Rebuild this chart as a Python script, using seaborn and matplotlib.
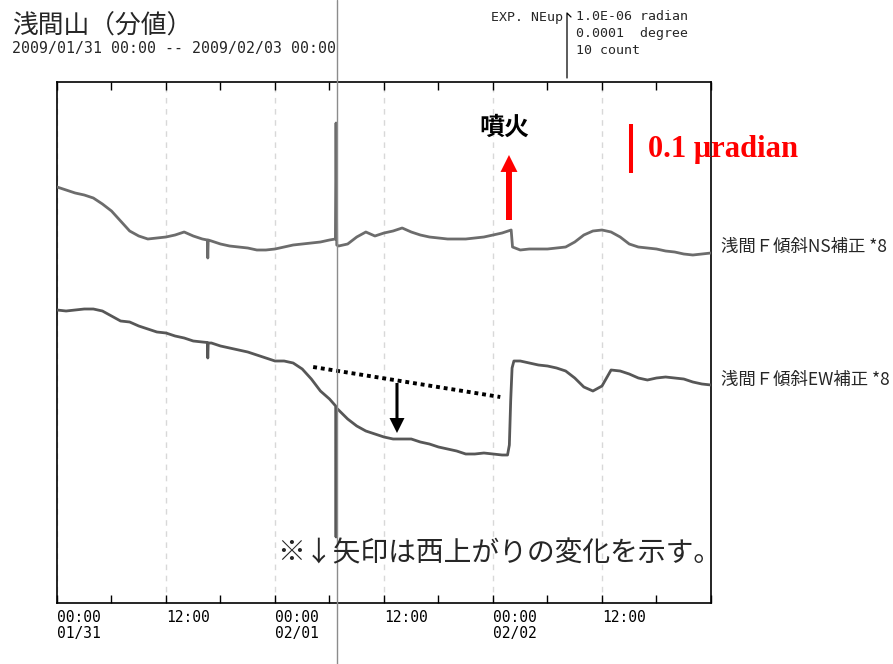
import matplotlib
matplotlib.use("Agg")
import matplotlib.pyplot as plt
from matplotlib.lines import Line2D
import numpy as np
import pandas as pd
import seaborn as sns

# Asama F tiltmeter, 1-minute record, hours since 2009/01/31 00:00 JST.
# Tilt levels are in nrad (0.1 μrad = 100), each channel drawn at its own offset.
ns_hours = [0, 1, 2, 3, 4, 5, 6, 7, 8, 9, 10, 11, 12, 13, 14, 15, 16, 16.55, 16.6, 16.65,
            17, 18, 19, 20, 21, 22, 23, 24, 25, 26, 27, 28, 29, 30, 30.65, 30.72, 30.8,
            31, 32, 33, 34, 35, 36, 37, 38, 39, 40, 41, 42, 43, 44, 45, 46, 47, 48, 49,
            50, 50.15, 51, 52, 53, 54, 55, 56, 57, 58, 59, 60, 61, 62, 63, 64, 65, 66,
            67, 68, 69, 70, 71, 72]
ns_tilt = [832, 826, 820, 816, 810, 798, 784, 764, 744, 734, 728, 730, 732, 736, 742, 734,
           728, 726, 690, 726, 724, 718, 714, 712, 710, 706, 706, 708, 712, 716, 718, 720,
           722, 726, 728, 960, 716, 714, 718, 732, 742, 734, 740, 744, 750, 742, 736, 732,
           730, 728, 728, 728, 730, 732, 736, 740, 746, 712, 706, 708, 708, 708, 710, 712,
           722, 736, 744, 746, 742, 732, 718, 712, 710, 708, 704, 702, 698, 696, 698, 700]

ew_hours = [0, 1, 2, 3, 4, 5, 6, 7, 8, 9, 10, 11, 12, 13, 14, 15, 16, 16.55, 16.6, 16.65,
            17, 18, 19, 20, 21, 22, 23, 24, 25, 26, 27, 28, 29, 30, 30.68, 30.72, 30.76,
            31, 32, 33, 34, 35, 36, 37, 38, 39, 40, 41, 42, 43, 44, 45, 46, 47, 48, 49,
            49.6, 49.8, 49.95, 50.1, 50.3, 51, 52, 53, 54, 55, 56, 57, 58, 59, 60, 61,
            62, 63, 64, 65, 66, 67, 68, 69, 70, 71, 72]
ew_tilt = [586, 584, 586, 588, 588, 584, 574, 564, 562, 554, 548, 542, 540, 534, 530, 524,
           522, 521, 490, 520, 520, 514, 510, 506, 502, 496, 490, 484, 484, 480, 468, 448,
           424, 408, 394, 132, 390, 386, 368, 354, 344, 338, 332, 328, 328, 328, 322, 318,
           312, 308, 304, 298, 298, 300, 298, 296, 296, 316, 406, 470, 484, 484, 480, 476,
           474, 470, 464, 450, 432, 424, 434, 466, 464, 458, 450, 446, 450, 452, 450, 448,
           442, 438, 436]

tick_hours = [0, 12, 24, 36, 48, 60, 72]
tick_labels = ["00:00\n01/31", "12:00", "00:00\n02/01", "12:00", "00:00\n02/02", "12:00", ""]
minor_hours = [6, 18, 30, 42, 54, 66]

trend_hours = [28.2, 48.8]      # pre-eruption EW trend (dotted)
trend_tilt = [472, 412]
eruption_hour = 49.76           # 噴火 2009/02/02 01:51
eruption_arrow = [766, 896]
west_up_hour = 37.43
west_up_arrow = [440, 340]
scale_hour = 63.2
scale_bar = [860, 958]          # 0.1 μrad

sns.set_theme(style="white")
plt.rcParams["font.family"] = ["Noto Sans CJK JP", "DejaVu Sans"]

W, H = 893, 664
fig = plt.figure(figsize=(W / 100, H / 100), dpi=100)
ax = fig.add_axes([57 / W, 1 - 603 / H, (711 - 57) / W, (603 - 82) / H])

df_ns = pd.DataFrame({"hour": ns_hours, "tilt": ns_tilt})
df_ew = pd.DataFrame({"hour": ew_hours, "tilt": ew_tilt})
sns.lineplot(data=df_ns, x="hour", y="tilt", ax=ax, color="#6c6c6c", lw=2.0,
             estimator=None, sort=False, zorder=3)
sns.lineplot(data=df_ew, x="hour", y="tilt", ax=ax, color="#575757", lw=2.0,
             estimator=None, sort=False, zorder=3)

ax.set_xlim(0, 72)
ax.set_ylim(0, 1042)
ax.set_xlabel("")
ax.set_ylabel("")
ax.set_xticks(tick_hours)
ax.set_xticks(minor_hours, minor=True)
ax.set_xticklabels(tick_labels, fontfamily="DejaVu Sans Mono", fontsize=10.5,
                   linespacing=1.05, color="black")
for lab in ax.get_xticklabels():
    lab.set_horizontalalignment("left")
ax.set_yticks([])
ax.tick_params(axis="x", which="both", direction="in", length=6, width=1,
               color="black", top=True, bottom=True, pad=5)
ax.grid(axis="x", which="major", color="#d8d8d8", ls=(0, (4, 4)), lw=1)
for s in ax.spines.values():
    s.set_color("black")
    s.set_linewidth(1.2)

# annotations on the record
ax.plot(trend_hours, trend_tilt, color="black", lw=2.8, ls=(0, (1, 1)),
        dash_capstyle="butt", zorder=4)
ax.annotate("", xy=(west_up_hour, west_up_arrow[1]), xytext=(west_up_hour, west_up_arrow[0]),
            arrowprops=dict(arrowstyle="simple,head_length=1.08,head_width=1.08,tail_width=0.22",
                            color="black", lw=0, shrinkA=0, shrinkB=0, mutation_scale=10),
            zorder=5)
ax.annotate("", xy=(eruption_hour, eruption_arrow[1]), xytext=(eruption_hour, eruption_arrow[0]),
            arrowprops=dict(arrowstyle="simple,head_length=1.22,head_width=1.22,tail_width=0.43",
                            color="#ff0000", lw=0, shrinkA=0, shrinkB=0, mutation_scale=10),
            zorder=5)
ax.text(49.3, 950, "噴火", ha="center", va="center", fontsize=18, fontweight="bold",
        color="black")
ax.plot([scale_hour, scale_hour], scale_bar, color="#ff0000", lw=2.9,
        solid_capstyle="butt")
ax.text(65.07, 908, "0.1 μradian", color="#ff0000", fontsize=22, fontweight="bold",
        family=["Liberation Serif", "DejaVu Serif"], ha="left", va="center")

# header
fig.text(12 / W, 1 - 27 / H, "浅間山（分値）", fontsize=18.5, ha="left", va="center")
fig.text(12 / W, 1 - 48 / H, "2009/01/31 00:00 -- 2009/02/03 00:00",
         family="DejaVu Sans Mono", fontsize=10.7, ha="left", va="center")
fig.text(491 / W, 1 - 17 / H, "EXP. NEup", family="DejaVu Sans Mono", fontsize=9.5,
         ha="left", va="center")
for i, t in enumerate(["1.0E-06 radian", "0.0001  degree", "10 count"]):
    fig.text(576 / W, 1 - (17 + 17 * i) / H, t, family="DejaVu Sans Mono", fontsize=9.5,
             ha="left", va="center")
fig.add_artist(Line2D([567 / W, 567 / W, 571 / W], [1 - 78 / H, 1 - 13 / H, 1 - 17 / H],
                      color="black", lw=0.9))

# channel names
fig.text(721 / W, 1 - 247 / H, "浅間Ｆ傾斜NS補正 *8", fontsize=12.5, ha="left", va="center")
fig.text(721 / W, 1 - 380 / H, "浅間Ｆ傾斜EW補正 *8", fontsize=12.5, ha="left", va="center")

# note
fig.text(277 / W, 1 - 553 / H, "※↓矢印は西上がりの変化を示す。", fontsize=20,
         ha="left", va="center")

# cursor line
fig.add_artist(Line2D([336.5 / W, 336.5 / W], [0, 1], color="#8c8c8c", lw=1, zorder=2))

fig.savefig("out.png", dpi=100)
